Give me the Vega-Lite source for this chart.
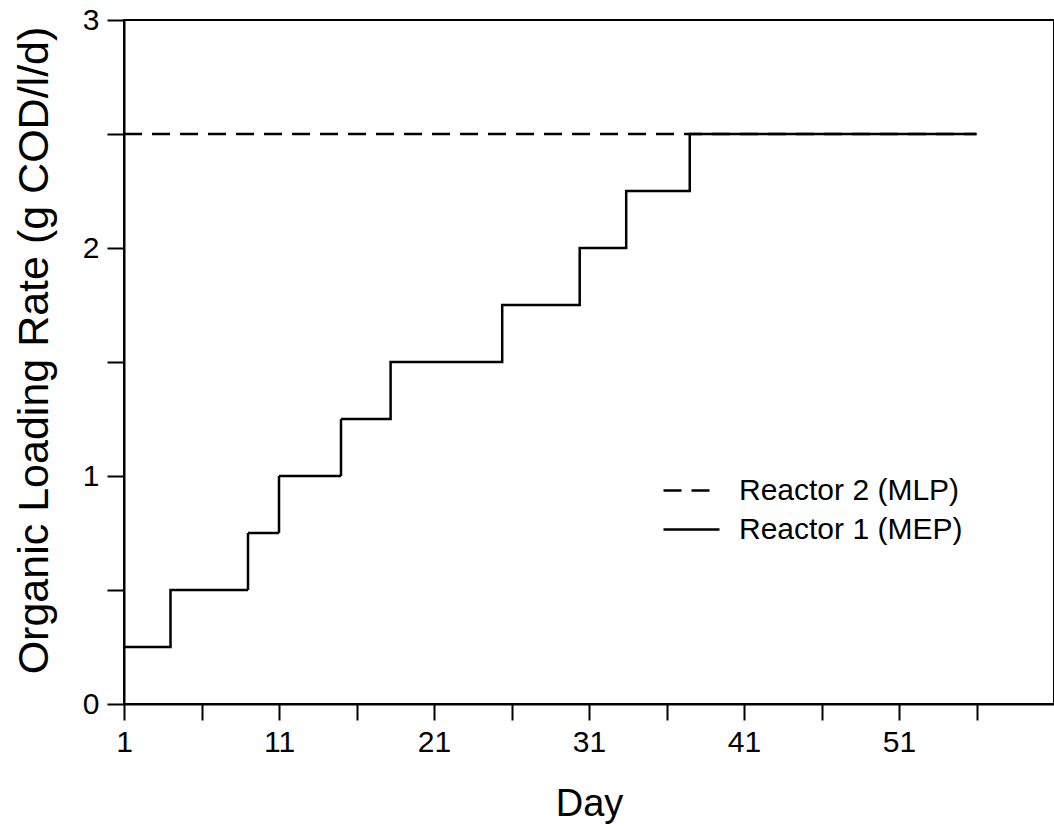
{
  "$schema": "https://vega.github.io/schema/vega-lite/v6.json",
  "width": 930,
  "height": 684,
  "autosize": {"type": "none"},
  "padding": {"left": 124, "top": 20, "right": 0, "bottom": 126},
  "background": "white",
  "config": {
    "view": {"stroke": "black", "strokeWidth": 2},
    "font": "Liberation Sans",
    "axis": {"labelColor": "black", "titleColor": "black", "titleFontWeight": "normal"}
  },
  "data": {
    "values": [
      {"series": "Reactor 1 (MEP)", "day": 1, "olr": 0.25},
      {"series": "Reactor 1 (MEP)", "day": 4, "olr": 0.5},
      {"series": "Reactor 1 (MEP)", "day": 9, "olr": 0.75},
      {"series": "Reactor 1 (MEP)", "day": 11, "olr": 1.0},
      {"series": "Reactor 1 (MEP)", "day": 15, "olr": 1.25},
      {"series": "Reactor 1 (MEP)", "day": 18.2, "olr": 1.5},
      {"series": "Reactor 1 (MEP)", "day": 25.4, "olr": 1.75},
      {"series": "Reactor 1 (MEP)", "day": 30.4, "olr": 2.0},
      {"series": "Reactor 1 (MEP)", "day": 33.4, "olr": 2.25},
      {"series": "Reactor 1 (MEP)", "day": 37.5, "olr": 2.5},
      {"series": "Reactor 1 (MEP)", "day": 56, "olr": 2.5},
      {"series": "Reactor 2 (MLP)", "day": 1, "olr": 2.5},
      {"series": "Reactor 2 (MLP)", "day": 56, "olr": 2.5}
    ]
  },
  "mark": {"type": "line", "interpolate": "step-after", "strokeWidth": 2.5, "color": "black"},
  "encoding": {
    "x": {
      "field": "day",
      "type": "quantitative",
      "scale": {"domain": [1, 61], "nice": false, "zero": false},
      "axis": {
        "title": "Day",
        "values": [1, 6, 11, 16, 21, 26, 31, 36, 41, 46, 51, 56],
        "labelExpr": "datum.value % 10 == 1 ? format(datum.value, 'd') : ''",
        "labelOverlap": false,
        "labelFlush": false,
        "grid": false,
        "tickSize": 16,
        "tickWidth": 2,
        "tickColor": "black",
        "domainColor": "black",
        "domainWidth": 2,
        "labelFontSize": 30,
        "labelPadding": 7,
        "titleFontSize": 38,
        "titlePadding": 28,
        "encode": {
          "ticks": {"update": {"y2": {"signal": "datum.value % 10 == 1 ? 16 : 8"}}}
        }
      }
    },
    "y": {
      "field": "olr",
      "type": "quantitative",
      "scale": {"domain": [0, 3], "nice": false},
      "axis": {
        "title": "Organic Loading Rate (g COD/l/d)",
        "values": [0, 0.5, 1, 1.5, 2, 2.5, 3],
        "labelExpr": "datum.value % 1 == 0 ? format(datum.value, 'd') : ''",
        "labelOverlap": false,
        "labelFlush": false,
        "grid": false,
        "tickSize": 17,
        "tickWidth": 2,
        "tickColor": "black",
        "domainColor": "black",
        "domainWidth": 2,
        "labelFontSize": 30,
        "labelPadding": 8,
        "titleFontSize": 43,
        "titlePadding": 26,
        "titleY": 330,
        "encode": {
          "ticks": {"update": {"x2": {"signal": "datum.value % 1 == 0 ? -17 : -7"}}}
        }
      }
    },
    "strokeDash": {
      "field": "series",
      "type": "nominal",
      "scale": {"domain": ["Reactor 2 (MLP)", "Reactor 1 (MEP)"], "range": [[18, 10], [1, 0]]},
      "legend": {
        "title": null,
        "orient": "none",
        "legendX": 538,
        "legendY": 451,
        "symbolType": "stroke",
        "symbolSize": 3136,
        "symbolStrokeWidth": 2.5,
        "symbolStrokeColor": "black",
        "labelFontSize": 30,
        "labelLimit": 400,
        "labelColor": "black",
        "labelOffset": 18,
        "clipHeight": 39,
        "rowPadding": 0
      }
    }
  }
}
